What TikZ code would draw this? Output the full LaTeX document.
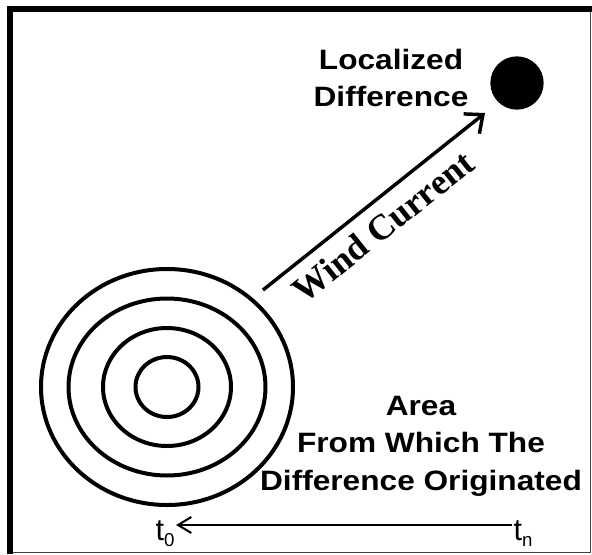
\documentclass[tikz,border=0pt]{standalone}
\usepackage{fontspec}
\setmainfont{Liberation Sans}
\newfontfamily\labelfont[FakeStretch=1.13]{Liberation Sans}
\newfontfamily\windfont{Liberation Serif}
\usetikzlibrary{arrows.meta,positioning}

\begin{document}
\begin{tikzpicture}[
        x=0.75pt, y=-0.75pt,
        every node/.style={font=\fontsize{21}{27}\selectfont},
        heading/.style={font=\fontsize{21}{28}\labelfont\bfseries, align=center, inner sep=0pt},
        ring/.style={draw=black, line width=3pt},
        spot/.style={circle, fill=black, minimum size=40pt, inner sep=0pt},
        windflow/.style={-{Straight Barb[length=11pt,width=19pt,line width=2.6pt]}, line width=2.6pt},
        timeflow/.style={-{Straight Barb[length=10pt,width=12pt]}, line width=1.5pt},
        timemark/.style={font=\fontsize{23}{26}\selectfont, inner sep=1pt, anchor=base}
    ]
        \useasboundingbox (0,0) rectangle (592,554);

        % frame
        \draw[line width=4.5pt] (10,554) -- (10,9) -- (592,9);
        \draw[line width=1pt, black!75] (13,552.5) -- (590.5,552.5) -- (590.5,12);

        % source area
        \coordinate (origin) at (167,387);
        \foreach \rx/\ry in {31.5/30, 64/59, 98.5/88.5, 126/118}
            \draw[ring] (origin) ellipse [x radius=\rx, y radius=\ry];

        % localized difference
        \node[spot] (spot) at (517,83) {};
        \node[heading] (diff) at (391,78) {Localized\\Difference};

        % wind current
        \coordinate (windstart) at (263,290);
        \coordinate (windend) at (485,113);
        \draw[windflow] (windstart) -- node[pos=0.47, below, sloped, inner sep=8pt,
            font=\fontsize{27}{30}\selectfont\windfont\bfseries] {Wind Current} (windend);

        \node[heading] (area) at (421,446) {Area\\From Which The\\Difference Originated};

        % time axis
        \node[timemark] (tzero) at (165,540) {t\raisebox{-5pt}{\fontsize{14}{16}\selectfont 0}};
        \node[timemark] (tn) at (523,540) {t\raisebox{-5pt}{\fontsize{14}{16}\selectfont n}};
        \draw[timeflow] (tn.west |- 0,525) -- (tzero.east |- 0,525);
    \end{tikzpicture}
\end{document}
